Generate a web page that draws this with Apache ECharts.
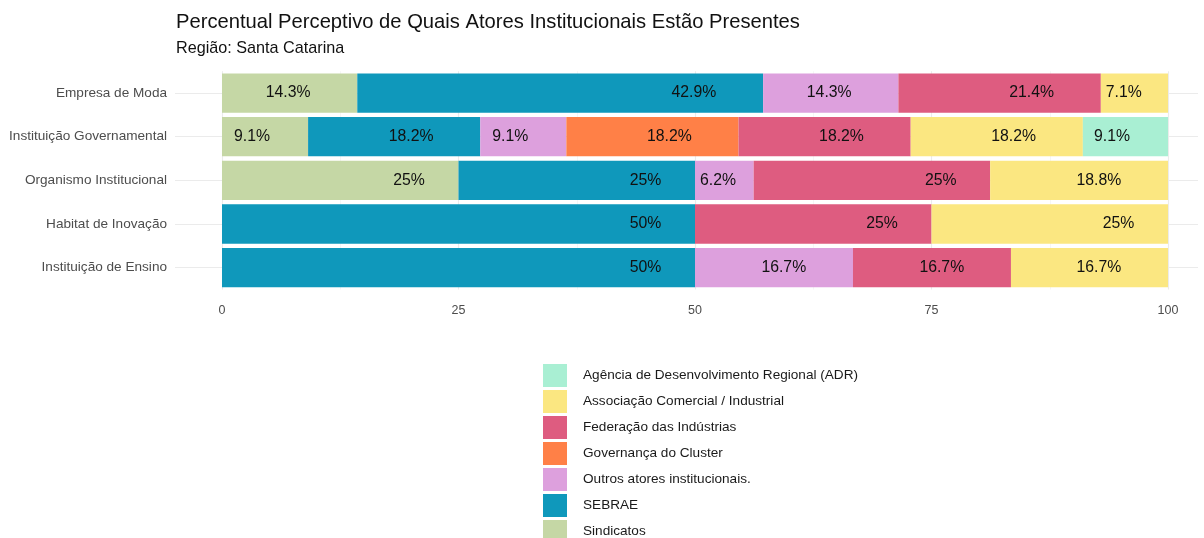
<!DOCTYPE html>
<html><head><meta charset="utf-8">
<script src="https://cdn.jsdelivr.net/npm/echarts@6/dist/echarts.min.js"></script>
<style>html,body{margin:0;padding:0;background:#fff}#c{width:1204px;height:538px}</style>
</head><body><div id="c"></div>
<script>
// ---- data ----
const categories = ['Empresa de Moda', 'Instituição Governamental', 'Organismo Institucional', 'Habitat de Inovação', 'Instituição de Ensino'];
const xTicks = [0, 25, 50, 75, 100];
const actorNames = ['Sindicatos', 'SEBRAE', 'Outros atores institucionais.', 'Governança do Cluster', 'Federação das Indústrias', 'Associação Comercial / Industrial', 'Agência de Desenvolvimento Regional (ADR)'];
const sindicatos = [14.3, 9.1, 25, null, null];
const sebrae = [42.9, 18.2, 25, 50, 50];
const outros = [14.3, 9.1, 6.2, null, 16.7];
const governanca = [null, 18.2, null, null, null];
const federacao = [21.4, 18.2, 25, 25, 16.7];
const associacao = [7.1, 18.2, 18.8, 25, 16.7];
const adr = [null, 9.1, null, null, null];
const legendOrder = ['Agência de Desenvolvimento Regional (ADR)', 'Associação Comercial / Industrial', 'Federação das Indústrias', 'Governança do Cluster', 'Outros atores institucionais.', 'SEBRAE', 'Sindicatos'];

// ---- styles ----
const seriesValues = [sindicatos, sebrae, outros, governanca, federacao, associacao, adr];
const palette = ['#c5d7a5', '#0f98bb', '#dda0dd', '#ff8047', '#de5c80', '#fbe781', '#a9efd3'];
const FONT = '"Liberation Sans", Arial, sans-serif';
const LABEL_SIZE = 15.8;
const PLOT_LEFT = 222, PLOT_W = 946;
const AXIS_MAX = 100;

const ctx = document.createElement('canvas').getContext('2d');
ctx.font = LABEL_SIZE + 'px ' + FONT;

function makeItem(v) {
  if (v == null) return {value: null};
  const t = v + '%';
  const w = ctx.measureText(t).width;
  const segPx = v / AXIS_MAX * PLOT_W;
  if (segPx < 2 * w + 7) {
    return {value: v, label: {show: true, position: 'insideLeft', distance: 5, formatter: t}};
  }
  return {value: v, label: {show: true, position: 'insideRight', distance: 2, formatter: '{t|' + t + '}{g|' + t + '}'}};
}

const series = actorNames.map((name, i) => ({
  name: name,
  type: 'bar',
  stack: 'total',
  xAxisIndex: 1,
  yAxisIndex: 1,
  barCategoryGap: '10%',
  itemStyle: {color: palette[i]},
  label: {
    show: true, color: '#111', fontSize: LABEL_SIZE, fontFamily: FONT,
    rich: {
      t: {color: '#111', fontSize: LABEL_SIZE, fontFamily: FONT},
      g: {color: 'rgba(0,0,0,0)', fontSize: LABEL_SIZE, fontFamily: FONT}
    }
  },
  emphasis: {disabled: true},
  data: seriesValues[i].map(makeItem)
}));

const chart = echarts.init(document.getElementById('c'), null, {renderer: 'canvas'});
chart.setOption({
  animation: false,
  backgroundColor: '#fff',
  textStyle: {fontFamily: FONT},
  title: {
    text: 'Percentual Perceptivo de Quais Atores Institucionais Estão Presentes',
    subtext: 'Região: Santa Catarina',
    left: 171, top: 7, itemGap: 9,
    textStyle: {fontSize: 20.2, fontWeight: 'normal', color: '#111', fontFamily: FONT},
    subtextStyle: {fontSize: 16.2, color: '#111', fontFamily: FONT}
  },
  legend: {
    orient: 'vertical', left: 543, top: 364, padding: 0, height: 200,
    itemWidth: 24, itemHeight: 23, itemGap: 3,
    icon: 'rect',
    data: legendOrder,
    selectedMode: false,
    textStyle: {fontSize: 13.6, color: '#1a1a1a', fontFamily: FONT, padding: [3, 0, 0, 11]}
  },
  grid: [
    {left: 175, right: 6, top: 93, height: 174.7},
    {left: PLOT_LEFT, width: PLOT_W, top: 71.2, height: 218.3}
  ],
  xAxis: [
    {gridIndex: 0, type: 'value', show: false, min: 0, max: 1},
    {
      gridIndex: 1, type: 'value', min: xTicks[0], max: xTicks[xTicks.length - 1], interval: 25,
      axisLine: {show: false}, axisTick: {show: false},
      axisLabel: {color: '#4d4d4d', fontSize: 12.5, margin: 15, fontFamily: FONT},
      splitLine: {show: true, lineStyle: {color: '#ebebeb', width: 1.1}},
      minorTick: {show: false, splitNumber: 2},
      minorSplitLine: {show: true, lineStyle: {color: '#f2f2f2', width: 0.7}}
    }
  ],
  yAxis: [
    {
      gridIndex: 0, type: 'category', data: categories, inverse: true, boundaryGap: false,
      axisLine: {show: false}, axisTick: {show: false}, axisLabel: {show: false},
      splitLine: {show: true, lineStyle: {color: '#ebebeb', width: 1.1}}
    },
    {
      gridIndex: 1, type: 'category', data: categories, inverse: true,
      axisLine: {show: false}, axisTick: {show: false},
      axisLabel: {color: '#4d4d4d', fontSize: 13.6, margin: 55, fontFamily: FONT, padding: [3, 0, 0, 0]},
      splitLine: {show: false}
    }
  ],
  series: series
});
</script></body></html>
